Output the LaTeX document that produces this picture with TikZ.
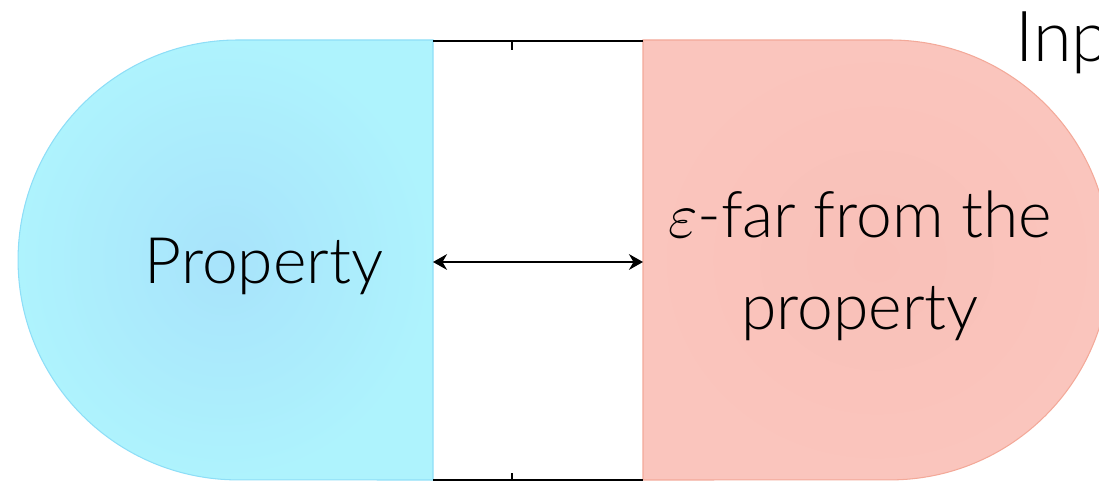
\RequirePackage{fix-cm}
\documentclass[tikz,border=0pt]{standalone}
\usepackage{fontspec}
\setmainfont{Lato}[UprightFont=* Light]
\usepackage{xcolor}
\usepackage{tikz}
\usetikzlibrary{arrows.meta}

\definecolor{propfill}{HTML}{AEF3FD}
\definecolor{propcore}{HTML}{A8E3FB}
\definecolor{propline}{HTML}{8EDEF7}
\definecolor{farfill}{HTML}{FAC5BD}
\definecolor{farcore}{HTML}{F9C0B8}
\definecolor{farline}{HTML}{F3A999}

\begin{document}
\begin{tikzpicture}[x=0.02cm, y=-0.02cm, every node/.style={font=\fontsize{36.5}{52}\selectfont}]
        % Define styles
        \tikzstyle{arrow} = [line width=0.9pt, {Stealth[length=8pt,width=9pt]}-{Stealth[length=8pt,width=9pt]}]
        \tikzstyle{rail} = [line width=0.9pt]
        \tikzstyle{tick} = [line width=1.7pt]

        \useasboundingbox (0,0) rectangle (1099,482);
        \clip (0,0) rectangle (1099,482);

        % Half stadiums
        \shade[inner color=propcore, outer color=propfill, draw=propline, line width=0.6pt]
            (433,40) -- (238,40) arc[start angle=90, end angle=270, radius=4.4cm] -- (433,480) -- cycle;
        \shade[inner color=farcore, outer color=farfill, draw=farline, line width=0.6pt]
            (643,40) -- (890,40) arc[start angle=90, end angle=-90, radius=4.4cm] -- (643,480) -- cycle;

        % Edges of the gap
        \coordinate (lefttop) at (433,41);
        \coordinate (righttop) at (643,41);
        \coordinate (leftbot) at (433,480);
        \coordinate (rightbot) at (643,480);
        \coordinate (leftmid) at (433,262);
        \coordinate (rightmid) at (643,262);
        \coordinate (toptick) at (512,41);
        \coordinate (bottick) at (512,480);

        % Texts
        \node (prop) at (264,266) {Property};
        \node (far) [align=center] at (860,266) {$\varepsilon$-far from the\\property};
        \node (input) [anchor=base west, inner sep=0pt, font=\fontsize{40}{50}\selectfont] at (1015,62) {Inp};

        % Rails and arrow
        \draw [rail] (lefttop) -- (righttop);
        \draw [rail] (leftbot) -- (rightbot);
        \draw [tick] (toptick) -- ++(0,9);
        \draw [tick] (bottick) -- ++(0,-7);
        \draw [arrow] (leftmid) -- (rightmid);
    \end{tikzpicture}
\end{document}
